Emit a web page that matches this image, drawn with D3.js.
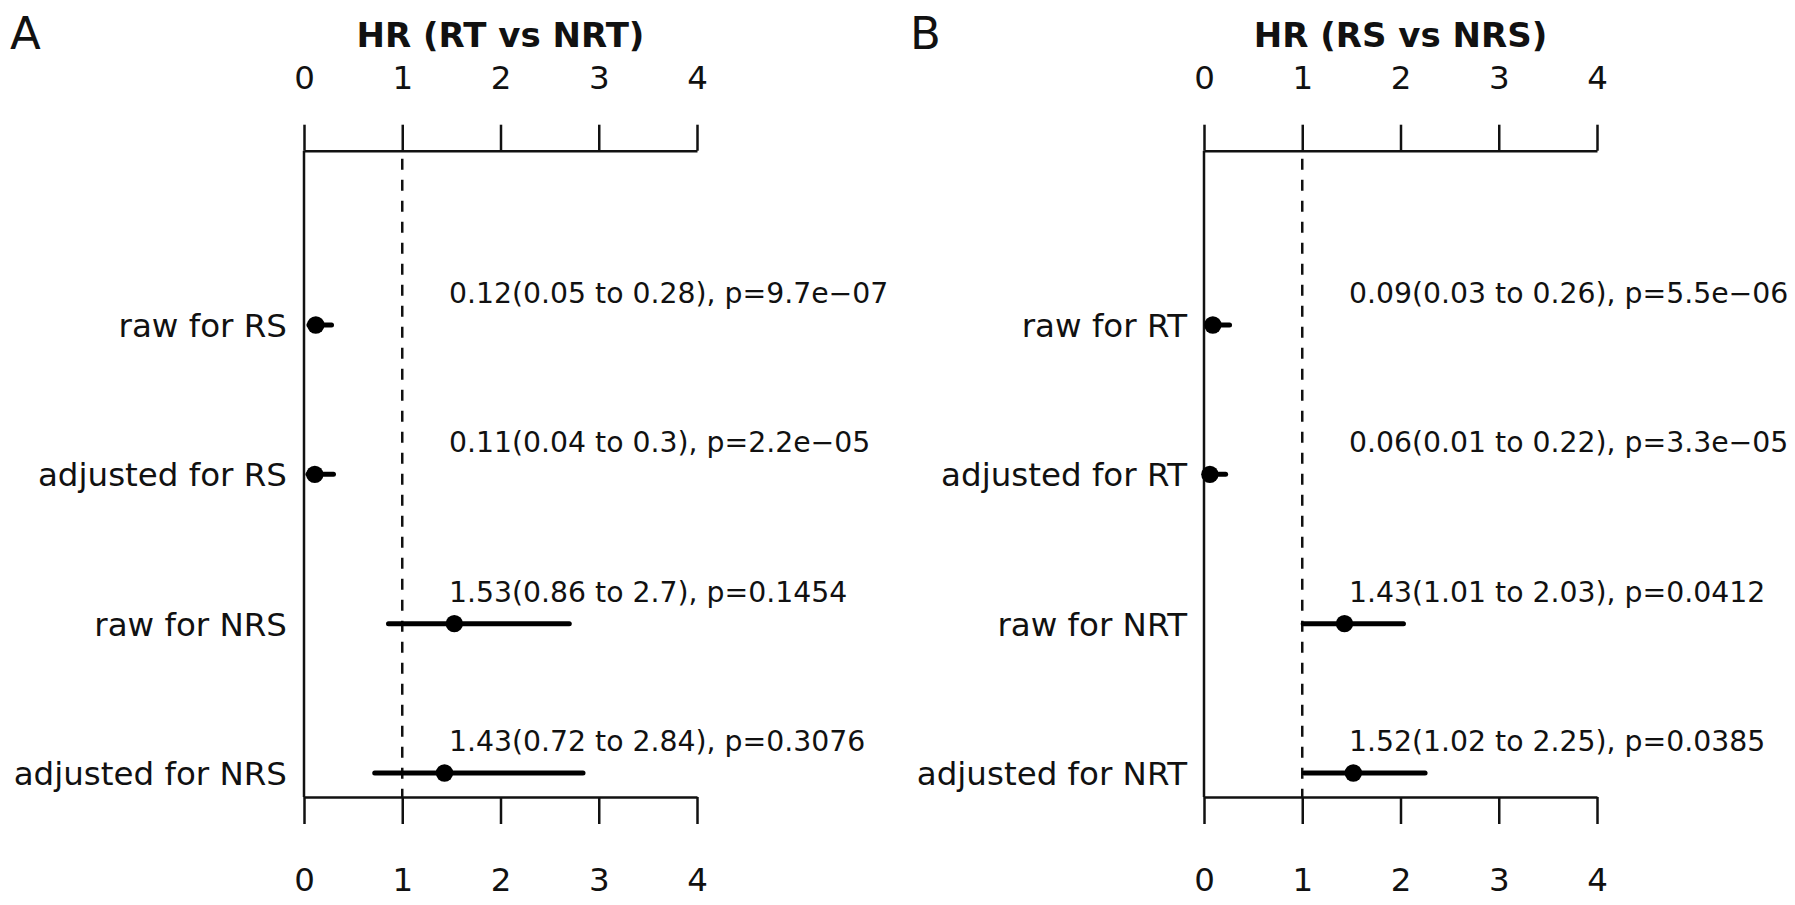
<!DOCTYPE html>
<html>
<head>
<meta charset="utf-8">
<script src="https://cdn.jsdelivr.net/npm/d3@7"></script>
<style>
  body { margin: 0; background: #fff; }
  text { font-family: "DejaVu Sans", sans-serif; fill: #111; }
</style>
</head>
<body>
<div id="chart"></div>
<script>
// panel A : HR (RT vs NRT)
const titleA = "HR (RT vs NRT)";
const labelsA = ["raw for RS", "adjusted for RS", "raw for NRS", "adjusted for NRS"];
const hrA = [0.12, 0.11, 1.53, 1.43];
const loA = [0.05, 0.04, 0.86, 0.72];
const hiA = [0.28, 0.3, 2.7, 2.84];
const pA = ["9.7e-07", "2.2e-05", "0.1454", "0.3076"];

// panel B : HR (RS vs NRS)
const titleB = "HR (RS vs NRS)";
const labelsB = ["raw for RT", "adjusted for RT", "raw for NRT", "adjusted for NRT"];
const hrB = [0.09, 0.06, 1.43, 1.52];
const loB = [0.03, 0.01, 1.01, 1.02];
const hiB = [0.26, 0.22, 2.03, 2.25];
const pB = ["5.5e-06", "3.3e-05", "0.0412", "0.0385"];

const xTicks = [0, 1, 2, 3, 4];

const W = 1795, H = 905;

let svg = d3.select("#chart").append("svg")
  .attr("width", W)
  .attr("height", H);

svg.append("rect").attr("width", W).attr("height", H).attr("fill", "#fff");

// shared geometry (panel A origin, panel B shifted right)
let axisTop = 150.7, axisBottom = 797;

function drawPanel(offset, letter, title, labels, hr, lo, hi, p) {
  let g = svg.append("g").attr("transform", "translate(" + offset + ",0)");

  let x = d3.scaleLinear().domain([0, 4]).range([304, 697]);
  let y = d3.scaleLinear().domain([0, labels.length - 1]).range([325, 773]);

  // panel letter
  g.append("text")
    .attr("x", 10)
    .attr("y", 49)
    .style("font-size", "45px")
    .text(letter);

  // title
  g.append("text")
    .attr("x", (x(0) + x(4)) / 2)
    .attr("y", 47)
    .attr("text-anchor", "middle")
    .style("font-size", "34px")
    .style("font-weight", "bold")
    .text(title);

  // top axis
  let top = g.append("g")
    .attr("transform", "translate(0," + axisTop + ")")
    .call(d3.axisTop(x).tickValues(xTicks).tickFormat(d3.format("d"))
      .tickSize(26).tickSizeOuter(0).tickPadding(36));

  // bottom axis
  let bot = g.append("g")
    .attr("transform", "translate(0," + axisBottom + ")")
    .call(d3.axisBottom(x).tickValues(xTicks).tickFormat(d3.format("d"))
      .tickSize(27).tickSizeOuter(0).tickPadding(44));

  [top, bot].forEach(function (a) {
    a.selectAll("path, line").attr("stroke", "#111").attr("stroke-width", 2.5);
    a.selectAll("text")
      .style("font-size", "32.5px")
      .style("font-family", "DejaVu Sans, sans-serif")
      .attr("fill", "#111");
  });

  // left vertical line
  g.append("line")
    .attr("x1", x(0)).attr("x2", x(0))
    .attr("y1", axisTop).attr("y2", axisBottom)
    .attr("stroke", "#111")
    .attr("stroke-width", 2.5);

  // reference line at HR = 1
  g.append("line")
    .attr("x1", x(1)).attr("x2", x(1))
    .attr("y1", axisTop + 8).attr("y2", axisBottom)
    .attr("stroke", "#111")
    .attr("stroke-width", 2.5)
    .attr("stroke-dasharray", "11,10");

  let rows = labels.map(function (d, i) {
    return { label: d, hr: hr[i], lo: lo[i], hi: hi[i], p: p[i], i: i };
  });

  // row labels
  g.selectAll(".rowlab")
    .data(rows)
    .enter().append("text")
    .attr("class", "rowlab")
    .attr("x", x(0) - 17)
    .attr("y", function (d) { return y(d.i); })
    .attr("dy", "0.37em")
    .attr("text-anchor", "end")
    .style("font-size", "32.5px")
    .text(function (d) { return d.label; });

  // confidence intervals
  g.selectAll(".ci")
    .data(rows)
    .enter().append("line")
    .attr("class", "ci")
    .attr("x1", function (d) { return x(d.lo); })
    .attr("x2", function (d) { return x(d.hi); })
    .attr("y1", function (d) { return y(d.i); })
    .attr("y2", function (d) { return y(d.i); })
    .attr("stroke", "#000")
    .attr("stroke-width", 5)
    .attr("stroke-linecap", "round");

  // point estimates
  g.selectAll(".dot")
    .data(rows)
    .enter().append("circle")
    .attr("class", "dot")
    .attr("cx", function (d) { return x(d.hr); })
    .attr("cy", function (d) { return y(d.i); })
    .attr("r", 8.7)
    .attr("fill", "#000");

  // annotations
  g.selectAll(".note")
    .data(rows)
    .enter().append("text")
    .attr("class", "note")
    .attr("x", x(0) + 145)
    .attr("y", function (d) { return y(d.i) - 22; })
    .style("font-size", "28.3px")
    .text(function (d) {
      return d.hr + "(" + d.lo + " to " + d.hi + "), p=" + d.p.replace("-", "\u2212");
    });
}

drawPanel(0, "A", titleA, labelsA, hrA, loA, hiA, pA);
drawPanel(900, "B", titleB, labelsB, hrB, loB, hiB, pB);
</script>
</body>
</html>
